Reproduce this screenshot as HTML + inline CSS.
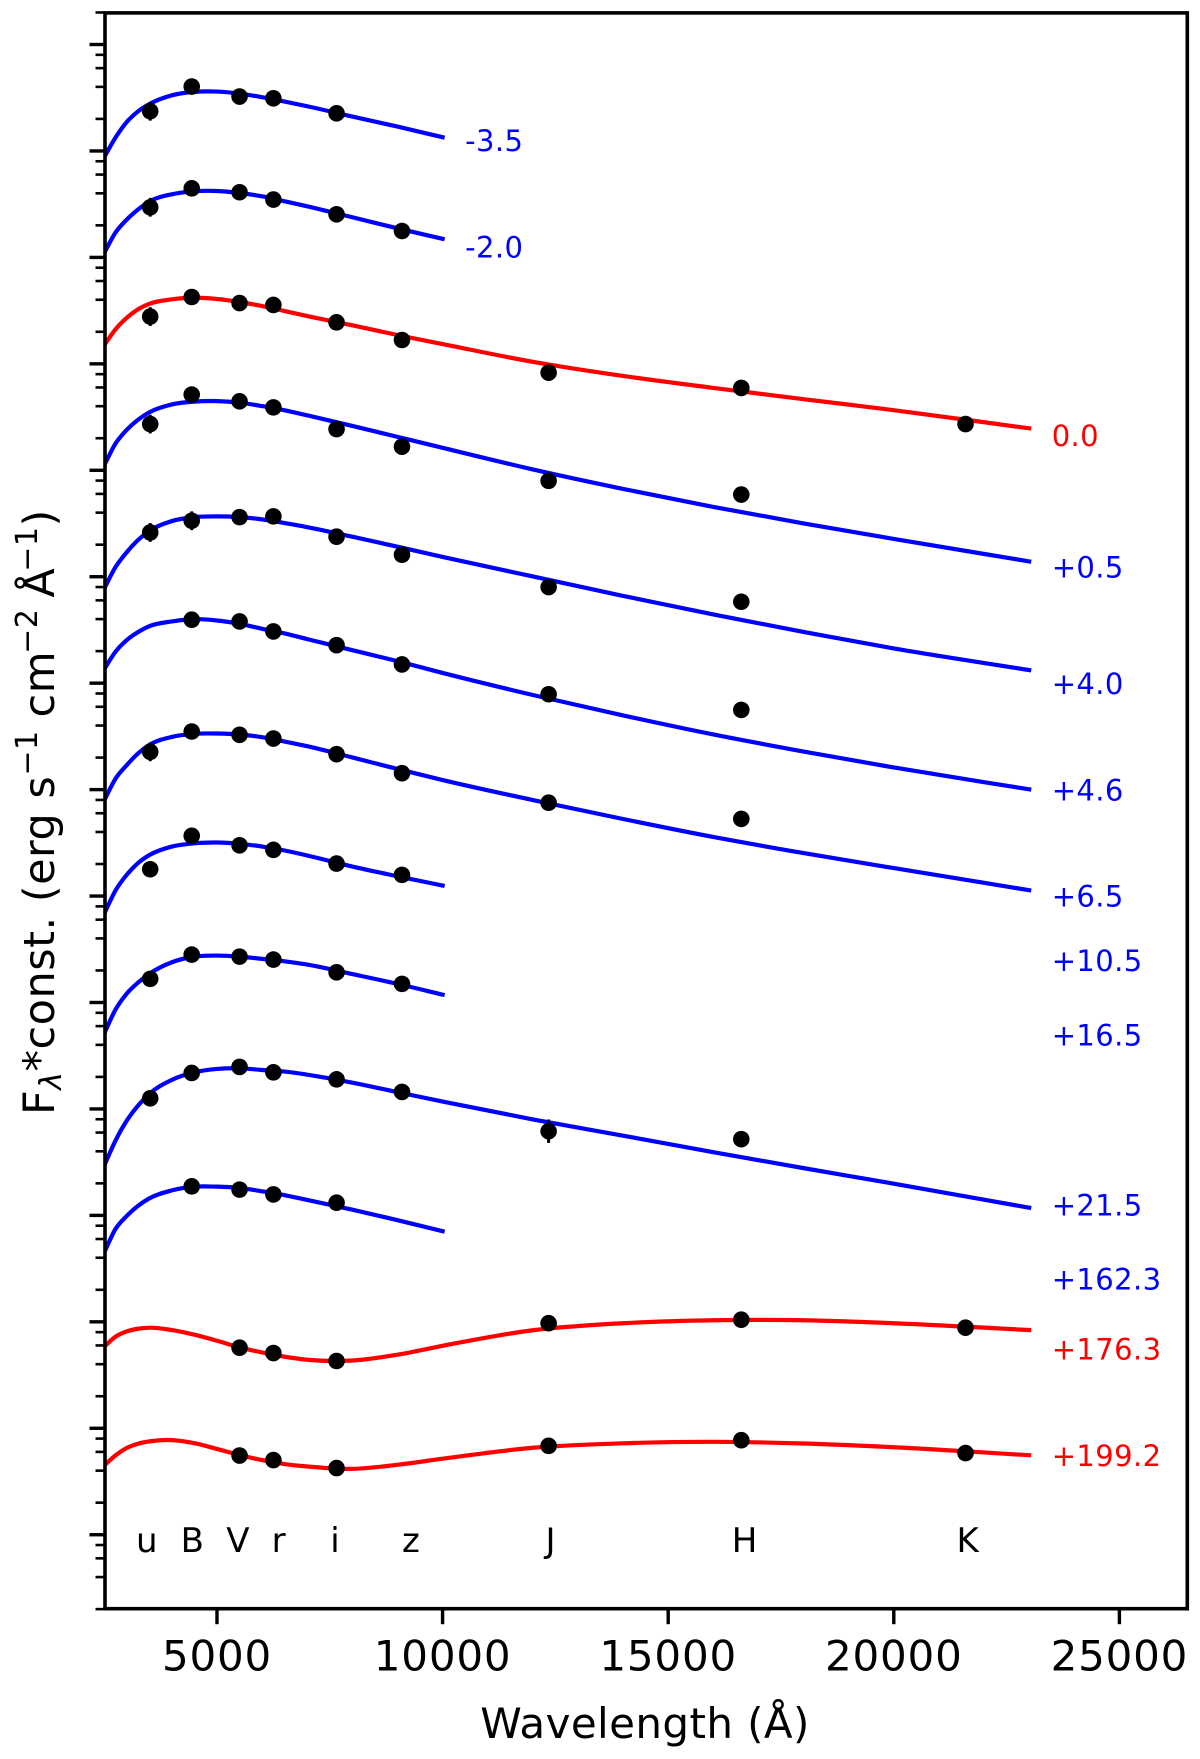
<!DOCTYPE html>
<html lang="en">
<head>
<meta charset="utf-8">
<title>Spectral energy distributions by phase</title>
<style>
html,body{margin:0;padding:0;background:#fff}
svg{display:block}
text{font-family:"DejaVu Sans","Liberation Sans",sans-serif}
</style>
</head>
<body>
<svg id="chart" xmlns="http://www.w3.org/2000/svg" width="1200" height="1759" viewBox="0 0 1200 1759">
  <defs><clipPath id="plot-clip"><rect x="105" y="12.9" width="1082.3" height="1595.8"/></clipPath></defs>
  <rect x="0" y="0" width="1200" height="1759" fill="#fff"/>
  <g id="curves" clip-path="url(#plot-clip)"></g>
  <g id="errors"></g>
  <g id="dots"></g>
  <g id="phase-labels"></g>
  <g id="band-labels"></g>
  <g id="y-ticks"></g>
  <g id="x-ticks"></g>
  <rect x="105" y="12.9" width="1082.3" height="1595.8" fill="none" stroke="#000" stroke-width="3.6"/>
  <text x="645" y="1738" text-anchor="middle" font-size="42" letter-spacing="0.4" fill="#000">Wavelength (Å)</text>
  <text transform="translate(54,1115) rotate(-90)" font-size="43" letter-spacing="0.5" fill="#000">F<tspan font-size="30" font-style="italic" dy="7">λ</tspan><tspan dy="-7">*const. (erg s</tspan><tspan font-size="30" dy="-17">−1</tspan><tspan dy="17" dx="13">cm</tspan><tspan font-size="30" dy="-17" dx="-3">−2</tspan><tspan dy="17" dx="11">Å</tspan><tspan font-size="30" dy="-17" dx="-4">−1</tspan><tspan dy="17">)</tspan></text>
</svg>
<script>
// Broad-band filters
const bands = ['u','B','V','r','i','z','J','H','K'];
const bandWavelengths = [3520,4440,5500,6250,7650,9100,12350,16620,21590];
const bandLabelWavelengths = [3205,4195,5205,6210,7510,9100,12280,16410,21390];
const bandLabelLevel = -0.16;

// Wavelength samples for the model curves (Å)
const modelWavelengths = [2500,2750,3000,3250,3500,4000,4500,5000,5500,6000,6500,7000,8000,9000,10000,12000,14000,16000,18000,20000,23000];

// Model curves: log10 flux (arbitrary constant)
const modelM35 = [12.941,13.125,13.272,13.372,13.440,13.523,13.555,13.558,13.539,13.505,13.464,13.420,13.323,13.229,13.129];
const modelM20 = [12.041,12.233,12.355,12.450,12.525,12.593,12.621,12.624,12.605,12.574,12.527,12.480,12.377,12.273,12.175];
const modelP00 = [11.174,11.324,11.432,11.512,11.564,11.606,11.622,11.609,11.581,11.543,11.496,11.449,11.362,11.271,11.186,11.019,10.886,10.774,10.668,10.565,10.394];
const modelP05 = [10.046,10.250,10.380,10.475,10.545,10.619,10.645,10.650,10.635,10.603,10.563,10.516,10.417,10.314,10.211,10.008,9.825,9.656,9.501,9.355,9.144];
const modelP40 = [8.887,9.090,9.230,9.345,9.430,9.523,9.560,9.567,9.560,9.539,9.504,9.466,9.376,9.282,9.186,9.003,8.820,8.646,8.481,8.326,8.123];
const modelP46 = [8.130,8.295,8.405,8.480,8.535,8.580,8.602,8.589,8.558,8.511,8.467,8.414,8.310,8.207,8.096,7.889,7.697,7.518,7.358,7.208,7.003];
const modelP65 = [6.898,7.102,7.230,7.340,7.420,7.495,7.524,7.527,7.518,7.493,7.452,7.408,7.302,7.194,7.090,6.902,6.724,6.555,6.404,6.263,6.055];
const modelP105 = [5.833,6.052,6.200,6.310,6.385,6.465,6.496,6.503,6.491,6.465,6.428,6.381,6.277,6.186,6.099];
const modelP165 = [4.708,4.933,5.084,5.187,5.269,5.378,5.431,5.441,5.431,5.410,5.387,5.356,5.267,5.175,5.074];
const modelP215 = [3.467,3.702,3.890,4.031,4.141,4.273,4.344,4.376,4.382,4.366,4.351,4.322,4.247,4.158,4.069,3.902,3.749,3.594,3.444,3.298,3.072];
const modelP1623 = [2.650,2.872,2.995,3.090,3.160,3.235,3.270,3.270,3.258,3.226,3.190,3.145,3.054,2.955,2.852];
const modelP1763 = [1.766,1.860,1.910,1.935,1.945,1.923,1.879,1.822,1.760,1.712,1.672,1.644,1.637,1.691,1.775,1.921,1.987,2.015,2.015,1.987,1.923];
const modelP1992 = [0.650,0.745,0.815,0.855,0.877,0.889,0.860,0.806,0.748,0.701,0.664,0.641,0.619,0.657,0.714,0.817,0.859,0.873,0.857,0.822,0.747];

// Photometry by band (u,B,V,r,i,z,J,H,K): log10 flux, null = not observed
const photM35 = [13.373,13.605,13.511,13.495,13.354,null,null,null,null];
const photM20 = [12.471,12.649,12.612,12.543,12.405,12.248,null,null,null];
const photP00 = [11.444,11.628,11.571,11.553,11.390,11.224,10.917,10.774,10.434];
const photP05 = [10.434,10.711,10.648,10.591,10.387,10.222,9.901,9.772,null];
const photP40 = [9.416,9.526,9.560,9.567,9.376,9.207,8.903,8.765,null];
const photP46 = [null,8.596,8.580,8.486,8.357,8.176,7.896,7.749,null];
const photP65 = [7.355,7.546,7.515,7.480,7.333,7.154,6.877,6.725,null];
const photP105 = [6.252,6.566,6.477,6.434,6.305,6.199,null,null,null];
const photP165 = [5.222,5.450,5.431,5.403,5.284,5.175,null,null,null];
const photP215 = [4.100,4.338,4.395,4.344,4.278,4.160,3.791,3.716,null];
const photP1623 = [null,3.273,3.242,3.197,3.119,null,null,null,null];
const photP1763 = [null,null,1.757,1.707,1.632,null,1.987,2.020,1.945];
const photP1992 = [null,null,0.744,0.701,0.626,null,0.835,0.888,0.767];

// Phase labels, one per epoch
const phases = ['-3.5','-2.0','0.0','+0.5','+4.0','+4.6','+6.5','+10.5','+16.5','+21.5','+162.3','+176.3','+199.2'];
const redPhases = ['0.0','+176.3','+199.2'];
const phaseLabelWavelengths = [10500,10500,23500,23500,23500,23500,23500,23500,23500,23500,23500,23500,23500];
const phaseLabelLevels = [13.001,12.001,10.229,8.995,7.896,6.898,5.901,5.295,4.595,3.000,2.302,1.648,0.648];
const models = [modelM35,modelM20,modelP00,modelP05,modelP40,modelP46,modelP65,modelP105,modelP165,modelP215,modelP1623,modelP1763,modelP1992];
const photometry = [photM35,photM20,photP00,photP05,photP40,photP46,photP65,photP105,photP165,photP215,photP1623,photP1763,photP1992];

// Error bars: epoch index, band index, half-size in dex
const errorEpochs = [0,1,2,3,4,4,6,9];
const errorBands = [0,0,0,0,0,1,0,6];
const errorSizes = [0.088,0.088,0.088,0.088,0.088,0.088,0.088,0.11];

// Axis tick labels
const xTickValues = [5000,10000,15000,20000,25000];
const xTickLabels = ['5000','10000','15000','20000','25000'];
const yDecades = [0,1,2,3,4,5,6,7,8,9,10,11,12,13,14];
const yMinorMultiples = [2,4,6,8];

// Axis functions
const xDomain = [2518,26505], yDomain = [-0.695,14.297];
const plotLeft = 105, plotRight = 1187.3, plotTop = 12.9, plotBottom = 1608.7;
function xScale(w){ return plotLeft + (w - xDomain[0]) / (xDomain[1] - xDomain[0]) * (plotRight - plotLeft); }
function yScale(v){ return plotBottom - (v - yDomain[0]) / (yDomain[1] - yDomain[0]) * (plotBottom - plotTop); }

const NS = 'http://www.w3.org/2000/svg';
function mk(tag, parentId){
  const el = document.createElementNS(NS, tag);
  document.getElementById(parentId).appendChild(el);
  return el;
}
// Cubic Hermite path with slopes weighted for unevenly spaced samples
function splinePath(pts){
  const n = pts.length, m = [];
  for (let i = 0; i < n; i++){
    if (i === 0) { m.push((pts[1][1]-pts[0][1])/(pts[1][0]-pts[0][0])); continue; }
    if (i === n-1) { m.push((pts[i][1]-pts[i-1][1])/(pts[i][0]-pts[i-1][0])); continue; }
    const h0 = pts[i][0]-pts[i-1][0], h1 = pts[i+1][0]-pts[i][0];
    const s0 = (pts[i][1]-pts[i-1][1])/h0, s1 = (pts[i+1][1]-pts[i][1])/h1;
    m.push((s0*h1 + s1*h0)/(h0+h1));
  }
  let d = 'M' + pts[0][0].toFixed(2) + ' ' + pts[0][1].toFixed(2);
  for (let i = 0; i < n-1; i++){
    const h = pts[i+1][0]-pts[i][0];
    d += 'C' + (pts[i][0]+h/3).toFixed(2) + ' ' + (pts[i][1]+m[i]*h/3).toFixed(2) + ' ' +
         (pts[i+1][0]-h/3).toFixed(2) + ' ' + (pts[i+1][1]-m[i+1]*h/3).toFixed(2) + ' ' +
         pts[i+1][0].toFixed(2) + ' ' + pts[i+1][1].toFixed(2);
  }
  return d;
}

// Model curves
phases.forEach(function(phase, i){
  const color = redPhases.includes(phase) ? '#ff0000' : '#0000ff';
  const pts = models[i].map(function(v, k){ return [xScale(modelWavelengths[k]), yScale(v)]; });
  const path = mk('path', 'curves');
  
  
  path.setAttribute('d', splinePath(pts));
  path.setAttribute('fill', 'none');
  path.setAttribute('stroke', color);
  path.setAttribute('stroke-width', '4.2');
  path.setAttribute('stroke-linecap', 'square');
  path.setAttribute('stroke-linejoin', 'round');

  // Photometry points
  photometry[i].forEach(function(v, b){
    if (v === null) return;
    const dot = mk('circle', 'dots');
    
    
    dot.setAttribute('cx', xScale(bandWavelengths[b]).toFixed(2));
    dot.setAttribute('cy', yScale(v).toFixed(2));
    dot.setAttribute('r', '8.3');
    dot.setAttribute('fill', '#000');
  });

  // Phase label
  const label = mk('text', 'phase-labels');
  
  
  label.setAttribute('x', xScale(phaseLabelWavelengths[i]).toFixed(2));
  label.setAttribute('y', yScale(phaseLabelLevels[i]).toFixed(2));
  label.setAttribute('font-size', '29');
  label.setAttribute('letter-spacing', '0.4');
  label.setAttribute('fill', color);
  label.textContent = phase;
});

// Error bars
errorEpochs.forEach(function(epoch, i){
  const value = photometry[epoch][errorBands[i]];
  const bar = mk('line', 'errors');
  
  
  const x = xScale(bandWavelengths[errorBands[i]]);
  bar.setAttribute('x1', x.toFixed(2));
  bar.setAttribute('x2', x.toFixed(2));
  bar.setAttribute('y1', yScale(value + errorSizes[i]).toFixed(2));
  bar.setAttribute('y2', yScale(value - errorSizes[i]).toFixed(2));
  bar.setAttribute('stroke', '#000');
  bar.setAttribute('stroke-width', '3');
});

// Band labels
bands.forEach(function(band, i){
  const t = mk('text', 'band-labels');
  
  
  t.setAttribute('x', xScale(bandLabelWavelengths[i]).toFixed(2));
  t.setAttribute('y', yScale(bandLabelLevel).toFixed(2));
  t.setAttribute('font-size', '34');
  t.setAttribute('fill', '#000');
  t.textContent = band;
});

// X ticks
xTickValues.forEach(function(value, i){
  const x = xScale(value);
  const tick = mk('line', 'x-ticks');
  
  
  tick.setAttribute('x1', x.toFixed(2));
  tick.setAttribute('x2', x.toFixed(2));
  tick.setAttribute('y1', plotBottom.toFixed(2));
  tick.setAttribute('y2', (plotBottom + 15.5).toFixed(2));
  tick.setAttribute('stroke', '#000');
  tick.setAttribute('stroke-width', '3.4');
  const label = mk('text', 'x-ticks');
  
  
  label.setAttribute('x', x.toFixed(2));
  label.setAttribute('y', '1670.7');
  label.setAttribute('text-anchor', 'middle');
  label.setAttribute('font-size', '42');
  label.setAttribute('letter-spacing', '0.8');
  label.setAttribute('fill', '#000');
  label.textContent = xTickLabels[i];
});

// Y ticks (log axis, no labels)
yDecades.forEach(function(decade){
  const major = mk('line', 'y-ticks');
  
  
  major.setAttribute('x1', (plotLeft - 15.5).toFixed(2));
  major.setAttribute('x2', plotLeft.toFixed(2));
  major.setAttribute('y1', yScale(decade).toFixed(2));
  major.setAttribute('y2', yScale(decade).toFixed(2));
  major.setAttribute('stroke', '#000');
  major.setAttribute('stroke-width', '3.4');
});
[-1].concat(yDecades).forEach(function(decade){
  yMinorMultiples.forEach(function(m){
    const v = decade + Math.log10(m);
    if (v < yDomain[0] - 0.01 || v > yDomain[1] + 0.01) return;
    const minor = mk('line', 'y-ticks');
    
    
    minor.setAttribute('x1', (plotLeft - 9.5).toFixed(2));
    minor.setAttribute('x2', plotLeft.toFixed(2));
    minor.setAttribute('y1', yScale(v).toFixed(2));
    minor.setAttribute('y2', yScale(v).toFixed(2));
    minor.setAttribute('stroke', '#000');
    minor.setAttribute('stroke-width', '2.6');
  });
});
</script>
</body>
</html>
